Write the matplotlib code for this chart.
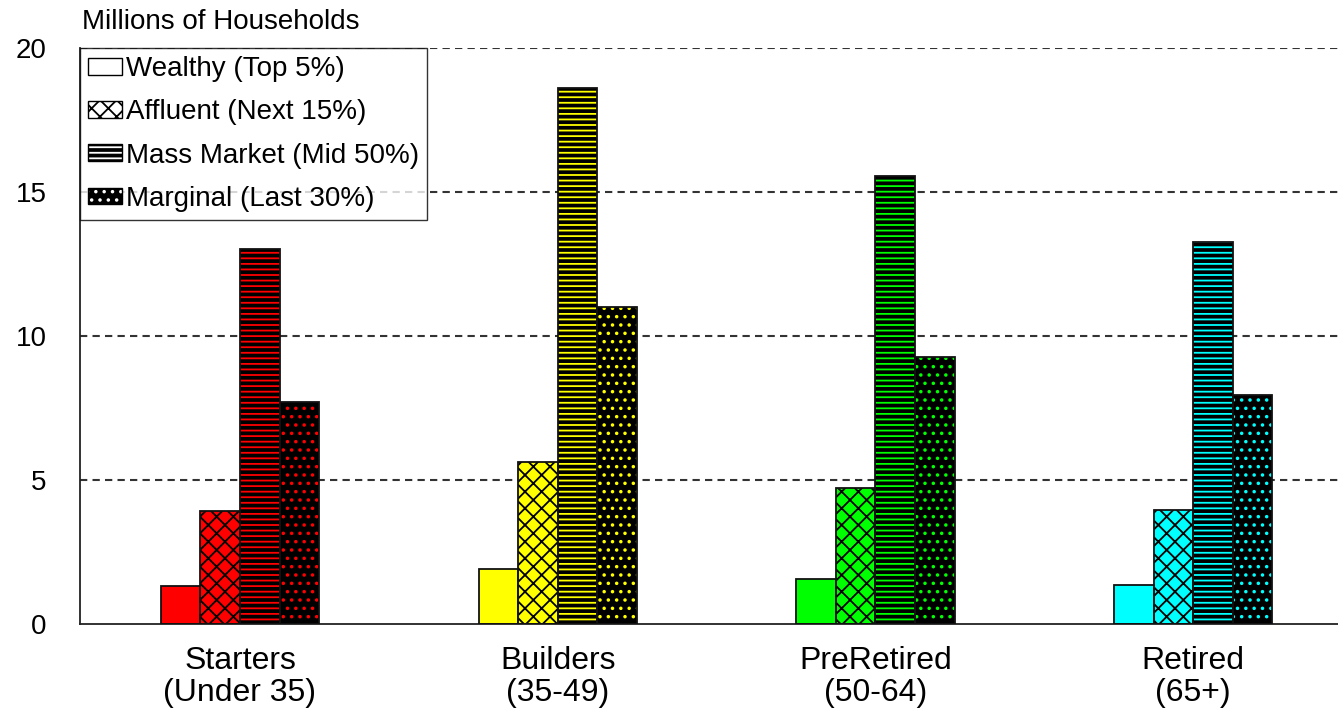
import matplotlib
matplotlib.use('Agg')
import matplotlib.pyplot as plt
import numpy as np
from matplotlib.patches import Patch

plt.rcParams['font.family'] = ['Liberation Sans', 'DejaVu Sans']
plt.rcParams['hatch.linewidth'] = 1.3

# Households by life stage and wealth tier (millions)
stages = ['Starters\n(Under 35)', 'Builders\n(35-49)', 'PreRetired\n(50-64)', 'Retired\n(65+)']
stage_colors = ['#FF0000', '#FFFF00', '#00FF00', '#00FFFF']
tiers = ['Wealthy (Top 5%)', 'Affluent (Next 15%)', 'Mass Market (Mid 50%)', 'Marginal (Last 30%)']
wealthy = [1.3, 1.9, 1.55, 1.35]
affluent = [3.9, 5.6, 4.7, 3.95]
mass_market = [13.0, 18.6, 15.55, 13.25]
marginal = [7.7, 11.0, 9.25, 7.95]

series = [wealthy, affluent, mass_market, marginal]

W, H = 1338, 718
fig = plt.figure(figsize=(W / 100, H / 100), dpi=100)
ax = fig.add_axes([80 / W, 94.5 / H, 1 - 80 / W, 575.6 / H])

x = np.arange(len(stages))
bar_w = 0.1245
offsets = (np.arange(4) - 1.5) * bar_w


def tier_style(tier, color):
    """fill colour, hatch and hatch colour for one tier / stage."""
    if tier == 0:
        return color, '', color
    if tier == 1:
        return color, 'xx', 'black'
    if tier == 2:
        return 'black', '---', color
    return 'black', '..', color


for t, vals in enumerate(series):
    for i, v in enumerate(vals):
        fc, hatch, hc = tier_style(t, stage_colors[i])
        # fill + hatch layer, then a separate outline on top
        ax.bar(x[i] + offsets[t], v, bar_w, color=fc, hatch=hatch,
               edgecolor=hc, linewidth=0, zorder=2)
        ax.bar(x[i] + offsets[t], v, bar_w, facecolor='none',
               edgecolor='#111111', linewidth=1.3, zorder=3)

ax.set_xlim(-0.5036, 3.456)
ax.set_ylim(0, 20)
ax.set_yticks([0, 5, 10, 15, 20])
ax.set_xticks(x)
ax.set_xticklabels(stages, fontsize=23, linespacing=1.08)
ax.tick_params(axis='y', length=0, pad=24, labelsize=20)
ax.tick_params(axis='x', length=0, pad=16)

for yv in [5, 10, 15, 20]:
    ax.axhline(yv, color='#333333', linewidth=1.5, linestyle=(0, (3.5, 2.5)), zorder=1)

for side in ['top', 'right']:
    ax.spines[side].set_visible(False)
for side in ['left', 'bottom']:
    ax.spines[side].set_color('#222222')
    ax.spines[side].set_linewidth(1.3)

# legend: white/black swatches for each tier
legend_styles = [('white', '', 'black'), ('white', 'xx', 'black'),
                 ('black', '---', 'white'), ('black', '..', 'white')]
handles = []
for fc, hatch, hc in legend_styles:
    handles.append((Patch(facecolor=fc, hatch=hatch, edgecolor=hc, linewidth=0),
                    Patch(facecolor='none', edgecolor='black', linewidth=1.0)))
leg = ax.legend(handles, tiers, loc='upper left', bbox_to_anchor=(0, 1),
                borderaxespad=0, fontsize=20, frameon=True, fancybox=False,
                handlelength=1.2, handleheight=0.55, handletextpad=0.15,
                labelspacing=0.62, borderpad=0.3)
leg.get_frame().set_edgecolor('black')
leg.get_frame().set_linewidth(1.0)
leg.set_zorder(5)

fig.text(82 / W, 1 - 29 / H, 'Millions of Households', fontsize=20,
         ha='left', va='baseline')

fig.savefig('out.png', dpi=100, facecolor='white')
